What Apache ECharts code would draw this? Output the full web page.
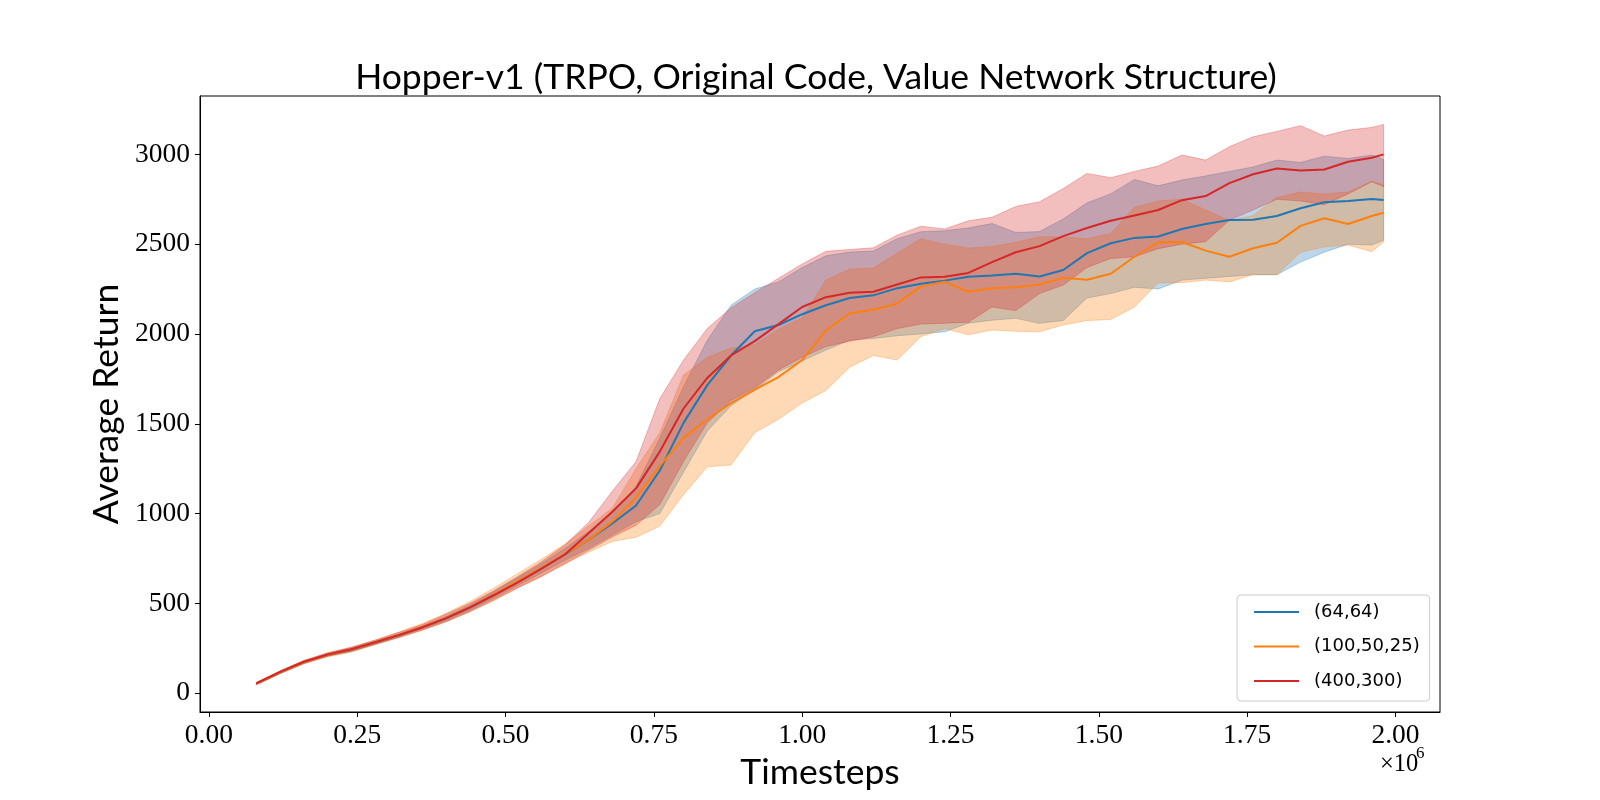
<!DOCTYPE html>
<html><head><meta charset="utf-8">
<script src="https://cdn.jsdelivr.net/npm/echarts@6/dist/echarts.min.js"></script>
<style>html,body{margin:0;padding:0;background:#fff}#c{width:1600px;height:800px}</style>
</head><body><div id="c"></div>
<script>
// Timesteps in units of 1e6
const timesteps = [0.08,0.12,0.16,0.20,0.24,0.28,0.32,0.36,0.40,0.44,0.48,0.52,0.56,0.60,0.64,0.68,0.72,0.76,0.80,0.84,0.88,0.92,0.96,1.00,1.04,1.08,1.12,1.16,1.20,1.24,1.28,1.32,1.36,1.40,1.44,1.48,1.52,1.56,1.60,1.64,1.68,1.72,1.76,1.80,1.84,1.88,1.92,1.96,1.98];

const seriesNames = ['(64,64)', '(100,50,25)', '(400,300)'];

const blueMean = [52,115,172,212,240,280,322,366,416,476,546,620,694,772,855,945,1045,1240,1505,1715,1880,2015,2050,2110,2160,2200,2215,2255,2280,2297,2318,2325,2335,2320,2356,2450,2505,2535,2543,2584,2612,2634,2636,2657,2700,2733,2741,2752,2746];
const blueLow  = [48,110,165,205,232,272,314,358,405,462,528,598,668,740,805,880,955,1000,1230,1460,1600,1690,1790,1850,1910,1965,1975,1990,2000,2012,2060,2077,2087,2059,2075,2200,2225,2260,2250,2300,2310,2320,2330,2330,2400,2455,2500,2495,2522];
const blueHigh = [56,120,178,220,250,288,330,374,427,490,564,642,720,805,900,1010,1150,1420,1706,1965,2160,2250,2290,2370,2435,2456,2462,2530,2569,2575,2590,2615,2565,2570,2640,2730,2780,2860,2825,2857,2880,2905,2930,2968,2955,2990,2977,2996,2972];

const orangeMean = [52,116,172,212,242,282,324,368,418,478,548,622,696,774,855,955,1090,1265,1420,1525,1615,1690,1760,1855,2020,2115,2135,2170,2265,2291,2235,2254,2260,2275,2313,2302,2335,2430,2510,2512,2464,2430,2477,2508,2602,2644,2612,2657,2675];
const orangeLow  = [46,108,162,202,228,268,308,350,398,452,515,585,648,720,785,845,868,930,1105,1260,1270,1450,1525,1615,1685,1815,1880,1855,1985,2030,1995,2022,2015,2012,2050,2075,2080,2150,2285,2285,2300,2290,2330,2330,2455,2485,2495,2458,2513];
const orangeHigh = [58,124,182,225,255,294,340,388,445,510,585,665,745,830,930,1030,1250,1450,1771,1870,1920,1940,2025,2090,2300,2360,2367,2450,2530,2500,2478,2487,2510,2541,2540,2530,2560,2705,2740,2750,2690,2630,2660,2760,2790,2780,2790,2850,2830];

const redMean = [55,118,175,215,244,283,323,367,418,478,545,616,692,772,890,1010,1140,1345,1585,1755,1880,1960,2055,2150,2205,2230,2235,2275,2315,2319,2340,2400,2455,2489,2545,2590,2630,2660,2690,2745,2768,2840,2889,2921,2910,2916,2959,2981,3000];
const redLow  = [48,110,166,206,234,272,310,352,398,455,518,585,650,720,795,870,935,1050,1290,1505,1630,1700,1800,1870,1930,1960,1985,2030,2055,2060,2065,2150,2130,2225,2272,2370,2420,2430,2475,2500,2514,2634,2690,2750,2740,2720,2780,2848,2820];
const redHigh = [58,124,182,224,256,296,338,382,440,500,570,648,730,825,950,1125,1290,1640,1855,2030,2145,2230,2310,2390,2460,2470,2480,2550,2600,2585,2630,2650,2710,2736,2810,2894,2870,2905,2935,2996,2968,3043,3098,3128,3160,3102,3135,3150,3167];

const xTicks = [0, 0.25, 0.5, 0.75, 1.0, 1.25, 1.5, 1.75, 2.0];
const yTicks = [0, 500, 1000, 1500, 2000, 2500, 3000];

const colors = ['#1f77b4', '#ff7f0e', '#d62728'];
const means = [blueMean, orangeMean, redMean];
const lows = [blueLow, orangeLow, redLow];
const highs = [blueHigh, orangeHigh, redHigh];

function rgba(hex, a) {
  const n = parseInt(hex.slice(1), 16);
  return 'rgba(' + ((n >> 16) & 255) + ',' + ((n >> 8) & 255) + ',' + (n & 255) + ',' + a + ')';
}
function pts(ys) { return timesteps.map((x, i) => [x, ys[i]]); }

const series = [];
for (let k = 0; k < 3; k++) {
  const lo = lows[k], hi = highs[k], col = colors[k];
  series.push({
    type: 'custom', name: 'band' + k, silent: true, z: 1, animation: false,
    data: timesteps.map((x, i) => [x, lo[i], hi[i]]),
    encode: { x: 0, y: [1, 2] },
    renderItem: function (params, api) {
      if (params.dataIndex !== 0) return null;
      const points = [];
      for (let i = 0; i < timesteps.length; i++) points.push(api.coord([timesteps[i], hi[i]]));
      for (let i = timesteps.length - 1; i >= 0; i--) points.push(api.coord([timesteps[i], lo[i]]));
      return {
        type: 'polygon', shape: { points: points },
        style: { fill: rgba(col, 0.3), stroke: rgba(col, 0.3), lineWidth: 1 }
      };
    }
  });
}
for (let k = 0; k < 3; k++) {
  series.push({
    name: seriesNames[k], type: 'line', data: pts(means[k]), symbol: 'none',
    lineStyle: { color: colors[k], width: 2 }, itemStyle: { color: colors[k] },
    z: 3, animation: false
  });
}

const serif = 'Liberation Serif';
const sans = 'Lato';

const option = {
  animation: false,
  backgroundColor: '#fff',
  title: {
    text: 'Hopper-v1 (TRPO, Original Code, Value Network Structure)',
    left: 811, textAlign: 'center', top: 55,
    textStyle: { fontFamily: sans, fontSize: 35.5, fontWeight: 'normal', color: '#000' }
  },
  grid: { left: 200, right: 160, top: 96, bottom: 88, show: true, borderColor: '#000', borderWidth: 1, containLabel: false },
  legend: {
    data: seriesNames, orient: 'vertical', left: 1237, top: 595,
    padding: [8, 10, 11, 16], itemGap: 16.5, itemWidth: 45, itemHeight: 22,
    itemStyle: { opacity: 0 },
    borderColor: '#cccccc', borderWidth: 1, borderRadius: 4, backgroundColor: 'rgba(255,255,255,0.8)',
    formatter: function (name) { return '{t|' + name + '}'; },
    textStyle: {
      color: '#000',
      rich: { t: { fontFamily: 'DejaVu Sans', fontSize: 18, color: '#000', padding: [0, 0, 0, 10] } }
    }
  },
  xAxis: {
    type: 'value', min: -0.015, max: 2.075,
    name: 'Timesteps', nameLocation: 'middle', nameGap: 40,
    nameTextStyle: { fontFamily: sans, fontSize: 35.5, color: '#000' },
    axisLine: { show: true, onZero: false, lineStyle: { color: '#000', width: 1 } },
    axisTick: { show: true, length: 5, customValues: xTicks, lineStyle: { color: '#000' } },
    axisLabel: { customValues: xTicks, formatter: v => v.toFixed(2), fontFamily: serif, fontSize: 27.5, color: '#000', margin: 10 },
    splitLine: { show: false }
  },
  yAxis: {
    type: 'value', min: -105, max: 3325,
    name: 'Average Return', nameLocation: 'middle', nameGap: 59,
    nameTextStyle: { fontFamily: sans, fontSize: 35.5, color: '#000' },
    axisLine: { show: true, onZero: false, lineStyle: { color: '#000', width: 1 } },
    axisTick: { show: true, length: 5, customValues: yTicks, lineStyle: { color: '#000' } },
    axisLabel: { customValues: yTicks, formatter: v => String(v), fontFamily: serif, fontSize: 27.5, color: '#000', margin: 10 },
    splitLine: { show: false }
  },
  graphic: [
    { type: 'text', left: 1380, top: 752, style: { text: '×10', fontFamily: serif, fontSize: 24.5, fill: '#000' } },
    { type: 'text', left: 1416, top: 745, style: { text: '6', fontFamily: serif, fontSize: 17, fill: '#000' } }
  ],
  series: series
};

const chart = echarts.init(document.getElementById('c'));
chart.setOption(option);
</script>
</body></html>
